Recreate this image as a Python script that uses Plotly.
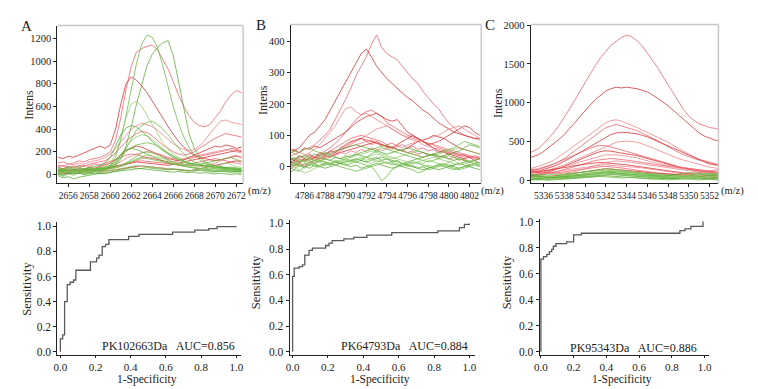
import plotly.graph_objects as go

W, H = 758, 389
def PX(x): return x / W
def PY(y): return 1 - y / H

# ---------------- Panel A spectra ----------------
x_A = [2655.0,2655.5,2656.0,2656.5,2657.0,2657.5,2658.0,2658.5,2659.0,2659.5,2660.0,2660.5,
       2661.0,2661.5,2662.0,2662.5,2663.0,2663.5,2664.0,2664.5,2665.0,2665.5,2666.0,2666.5,
       2667.0,2667.5,2668.0,2668.5,2669.0,2669.5,2670.0,2670.5,2671.0,2671.5,2672.0,2672.5]
A_red = [
 [100,110,90,100,120,110,130,140,150,170,200,300,500,750,950,1080,1110,1130,1140,1100,1020,930,820,700,600,520,460,430,420,440,500,560,640,700,740,720],
 [150,140,160,150,170,190,210,230,250,230,260,400,620,800,860,830,780,720,650,580,500,420,350,290,240,200,170,150,140,130,120,130,140,150,160,150],
 [80,70,90,85,100,90,110,120,130,150,180,230,290,350,400,430,450,440,420,390,350,310,270,240,220,210,220,250,300,360,420,470,480,460,450,440],
 [60,50,70,60,80,70,90,100,110,120,150,190,240,290,330,360,380,370,340,300,260,230,200,180,170,180,200,230,260,290,320,340,360,350,340,330],
 [40,50,30,45,35,50,60,55,70,80,100,130,170,210,230,250,240,220,200,180,160,140,130,120,130,150,170,190,210,230,250,240,260,250,230,240],
 [30,20,35,25,40,30,45,40,55,60,70,90,110,140,160,180,190,200,195,185,170,150,140,130,140,150,160,170,180,190,200,210,220,210,200,190],
 [70,80,60,75,65,80,70,90,85,100,110,130,150,170,180,175,160,150,140,130,120,110,115,120,130,140,150,160,170,180,190,200,210,230,220,210],
 [20,30,25,40,30,35,45,40,50,45,60,70,80,90,100,110,105,100,95,90,85,80,90,100,110,120,130,140,150,160,170,180,190,200,210,200],
 [10,20,15,25,20,30,25,35,30,40,45,55,70,85,100,120,140,150,145,135,120,105,95,90,85,80,75,70,80,90,100,120,140,160,170,150],
 [40,35,45,30,50,40,55,45,60,50,65,75,90,100,110,115,120,115,110,105,100,95,90,85,80,90,100,110,120,130,140,130,120,110,100,90],
 [0,10,5,15,10,20,15,25,20,30,35,40,50,60,65,70,75,70,65,60,55,50,45,40,35,30,40,50,60,70,80,90,100,110,120,110],
]
A_green = [
 [35,20,45,30,25,40,35,50,45,60,80,150,300,520,760,980,1150,1230,1210,1120,960,780,600,450,330,240,170,130,100,80,70,65,60,55,50,45],
 [20,30,15,35,25,30,40,35,45,50,60,80,130,250,420,620,800,960,1060,1120,1160,1180,1050,820,560,360,230,160,110,90,80,70,60,65,55,50],
 [40,35,50,30,45,40,55,50,60,70,100,180,320,500,620,650,600,520,430,350,280,220,180,150,120,100,90,80,70,60,55,60,50,45,40,35],
 [10,25,15,30,20,25,30,35,40,45,60,90,150,230,320,390,430,460,470,440,400,350,290,230,180,140,110,90,80,70,60,55,50,45,40,40],
 [50,40,60,45,55,50,60,70,80,100,150,250,350,410,430,420,380,340,290,250,210,180,150,130,110,100,90,80,75,70,60,65,55,50,45,40],
 [20,10,25,15,30,20,25,30,35,40,60,100,170,240,300,330,350,340,310,270,230,190,160,130,110,90,80,70,60,55,50,45,40,40,35,30],
 [30,40,25,35,30,45,40,50,55,60,80,110,150,200,240,260,270,280,270,250,220,190,160,140,120,100,90,80,75,70,60,55,50,55,45,40],
 [0,-10,10,5,15,10,20,25,30,40,70,120,180,220,230,220,200,180,160,140,120,100,90,80,70,60,55,50,45,40,35,30,35,30,25,20],
 [10,-20,5,-10,15,0,10,20,15,25,30,40,50,60,70,80,75,70,65,60,55,50,45,40,35,30,40,35,30,25,20,30,25,20,15,10],
 [40,30,50,35,45,30,40,35,50,45,55,60,70,90,110,130,150,140,130,120,110,100,90,80,70,65,60,50,55,45,50,40,45,35,40,30],
 [-10,-30,-20,-40,-25,-15,-5,0,10,5,20,30,40,50,60,55,50,45,40,35,30,25,20,25,20,15,20,10,15,10,5,10,5,0,5,0],
 [25,15,30,20,10,25,15,30,20,35,40,55,80,100,120,140,160,170,160,150,140,120,100,90,80,70,60,55,50,45,60,80,100,90,70,60],
 [60,50,70,55,65,50,60,45,55,50,60,70,80,100,130,160,190,200,190,170,150,130,110,100,90,85,80,90,100,110,120,130,140,150,130,120],
 [5,0,15,5,10,0,5,10,5,15,20,25,30,35,45,50,55,60,55,50,45,40,50,45,40,35,30,40,35,30,25,30,25,20,30,25],
]
A_xticks = [2656, 2658, 2660, 2662, 2664, 2666, 2668, 2670, 2672]
A_yticks = [0, 200, 400, 600, 800, 1000, 1200]

# ---------------- Panel B spectra ----------------
x_B = [4784.5,4785.0,4785.5,4786.0,4786.5,4787.0,4787.5,4788.0,4788.5,4789.0,4789.5,4790.0,
       4790.5,4791.0,4791.5,4792.0,4792.5,4793.0,4793.5,4794.0,4794.5,4795.0,4795.5,4796.0,
       4796.5,4797.0,4797.5,4798.0,4798.5,4799.0,4799.5,4800.0,4800.5,4801.0,4801.5,4802.0,4802.5,4803.0]
B_red = [
 [30,40,45,55,60,70,85,100,120,150,180,215,250,290,320,350,390,420,380,360,350,340,320,300,280,265,240,220,200,185,160,140,125,110,100,95,90,85],
 [40,50,60,80,100,110,130,150,180,210,240,270,300,330,360,375,350,320,300,280,265,250,235,220,210,195,180,170,155,140,130,120,110,105,100,95,90,90],
 [20,25,30,35,45,55,70,90,110,130,160,185,190,175,165,170,160,150,140,130,120,110,100,90,85,80,70,65,60,55,50,45,40,40,35,30,25,30],
 [10,5,15,20,25,30,40,50,60,75,90,110,130,150,165,175,180,170,160,140,130,120,110,100,95,90,80,75,70,60,55,50,45,40,35,30,30,25],
 [50,55,45,60,55,65,60,70,80,90,100,110,125,140,150,160,165,170,160,150,145,150,130,110,100,90,80,70,75,80,90,100,110,120,130,125,110,100],
 [0,5,10,0,15,10,20,25,30,40,50,60,70,80,90,100,110,120,125,130,120,110,100,95,90,85,80,75,70,65,60,55,50,45,40,35,30,25],
 [20,10,25,15,30,20,35,40,50,60,70,80,90,95,100,95,90,85,80,70,75,65,70,60,65,55,60,50,55,45,50,40,45,35,40,30,35,30],
 [30,20,35,25,40,30,45,35,50,45,60,70,80,85,90,85,80,75,70,65,60,55,50,60,70,80,85,90,100,95,90,80,70,60,55,50,45,40],
 [60,50,45,40,35,30,35,40,45,50,55,60,65,70,75,80,70,75,65,70,60,55,50,45,40,35,30,35,40,45,50,45,40,35,30,35,30,25],
 [-10,0,10,5,15,20,25,30,35,45,55,65,75,85,90,80,85,75,70,60,65,55,50,45,50,40,45,35,40,30,35,25,30,20,25,15,20,10],
 [10,20,15,25,20,30,25,35,30,40,45,50,55,60,65,70,75,80,70,65,60,70,80,90,100,90,80,70,60,50,45,40,35,30,25,30,20,25],
 [20,15,25,20,30,25,35,30,40,35,45,40,50,45,55,50,60,55,50,60,55,65,60,70,75,80,85,90,95,100,110,120,125,130,120,110,100,90],
]
B_green = [
 [0,-10,5,-5,10,0,5,15,10,20,15,25,20,15,10,5,0,-20,-45,-30,-10,0,10,5,0,-5,0,-10,-5,0,5,0,-5,-10,-5,0,5,0],
 [20,30,15,25,10,20,15,25,20,30,25,35,30,40,35,30,25,30,20,25,15,20,10,15,20,25,30,35,40,35,30,25,20,25,20,15,20,25],
 [10,0,-10,-20,-15,-5,0,10,5,15,10,20,15,25,20,15,10,20,15,10,5,10,0,5,10,15,10,20,15,10,5,0,5,10,15,20,15,10],
 [40,50,45,55,60,50,45,40,35,30,25,30,35,40,45,50,55,60,65,70,60,55,50,45,40,35,30,35,40,45,50,55,60,70,80,75,70,65],
 [-20,-10,-15,0,-5,5,0,10,5,15,10,5,0,5,-5,0,5,10,5,0,-5,0,5,10,15,10,5,0,-5,-10,-5,0,5,10,5,0,-5,-10],
 [30,25,20,15,20,10,15,5,10,15,20,25,30,35,40,45,50,45,40,35,30,25,20,15,10,15,20,25,30,25,20,15,10,5,10,15,20,25],
 [5,15,10,20,25,20,30,25,20,15,10,5,10,15,20,30,40,50,60,55,50,45,40,35,30,25,20,15,20,25,30,35,30,25,20,15,10,5],
 [15,10,5,0,5,10,0,-5,0,5,10,15,20,25,20,15,20,25,30,25,20,15,10,5,0,-5,-10,-5,0,5,10,5,0,-5,0,5,10,15],
 [50,40,35,30,25,20,25,30,35,30,25,20,15,20,25,30,35,40,35,30,25,30,35,40,45,50,45,40,35,40,45,50,55,60,55,50,45,40],
 [-5,5,0,10,5,15,20,15,10,5,0,-5,-10,-15,-10,-5,0,5,10,15,10,5,0,-5,-10,-20,-15,-5,0,5,0,-5,-10,-5,0,5,10,5],
 [25,20,30,35,30,40,35,45,40,50,55,60,65,70,65,60,55,50,45,40,45,50,55,60,55,50,45,40,35,30,35,40,45,50,60,70,65,60],
 [0,10,20,15,5,10,0,5,10,5,15,10,20,25,30,20,25,15,20,10,15,5,10,0,5,-5,0,5,0,10,5,15,20,10,15,5,10,0],
]
B_xticks = [4786, 4788, 4790, 4792, 4794, 4796, 4798, 4800, 4802]
B_yticks = [0, 100, 200, 300, 400]

# ---------------- Panel C spectra ----------------
x_C = [5334.5,5335.0,5335.5,5336.0,5336.5,5337.0,5337.5,5338.0,5338.5,5339.0,5339.5,5340.0,
       5340.5,5341.0,5341.5,5342.0,5342.5,5343.0,5343.5,5344.0,5344.5,5345.0,5345.5,5346.0,
       5346.5,5347.0,5347.5,5348.0,5348.5,5349.0,5349.5,5350.0,5350.5,5351.0,5351.5,5352.0,5352.5,5353.0]
C_red = [
 [340,370,410,470,540,620,710,810,920,1030,1150,1260,1370,1480,1580,1660,1740,1790,1840,1870,1850,1800,1730,1640,1550,1450,1340,1230,1120,1010,910,830,770,730,700,680,670,650],
 [280,300,330,370,420,470,530,590,660,740,820,900,970,1040,1100,1150,1180,1200,1190,1200,1190,1180,1160,1140,1100,1060,1010,960,900,840,780,720,660,610,570,540,520,500],
 [150,160,180,200,230,260,300,350,400,450,500,550,600,650,700,740,770,780,760,740,710,680,650,620,590,560,530,490,450,410,370,330,300,270,250,230,210,200],
 [120,130,140,160,180,210,240,280,330,380,430,480,530,580,630,680,700,720,700,680,660,640,610,580,550,510,470,430,390,360,330,300,280,260,240,220,200,190],
 [100,110,120,140,160,180,210,240,280,320,360,400,440,480,520,560,590,610,620,615,610,600,580,560,530,500,470,440,410,380,350,320,290,260,230,210,200,190],
 [80,90,100,110,130,150,170,200,230,260,290,320,350,380,410,440,470,490,500,505,500,490,470,450,420,390,360,330,300,280,260,240,220,200,180,170,160,150],
 [130,140,150,170,190,210,240,270,300,330,360,390,420,440,450,445,430,410,390,370,350,330,310,290,270,250,230,210,190,170,150,140,130,120,110,100,100,90],
 [60,70,80,90,110,130,150,180,210,240,270,300,330,350,370,380,375,360,350,340,330,320,300,280,260,240,220,200,180,170,160,150,140,130,120,110,100,100],
 [90,100,110,120,130,145,160,180,200,220,240,260,280,300,320,330,325,330,320,310,300,290,270,250,230,210,200,190,180,170,160,150,140,130,120,110,105,100],
 [50,60,70,80,90,100,120,140,160,180,200,220,240,255,265,275,280,275,270,260,250,240,230,220,210,200,190,180,170,160,150,140,130,120,110,100,90,80],
 [100,110,100,120,130,140,150,160,175,190,200,210,220,225,230,225,220,215,210,200,190,180,170,160,150,140,130,120,110,100,90,80,75,70,65,60,55,50],
 [70,80,85,90,100,110,120,130,140,150,160,170,180,190,195,200,195,190,185,180,175,170,160,150,140,130,120,110,100,90,85,80,75,70,65,60,60,55],
 [130,120,110,100,95,90,100,110,120,130,140,150,160,170,175,180,175,170,160,150,140,130,120,110,100,95,90,85,80,75,70,80,90,100,110,120,130,140],
 [40,50,45,55,50,60,65,70,80,90,100,110,120,130,140,150,145,140,135,130,125,120,110,100,95,90,85,80,75,70,65,60,55,50,45,40,35,30],
 [150,140,130,120,110,100,90,95,100,110,130,150,170,190,210,230,240,250,245,240,230,220,210,200,190,180,170,160,150,140,130,120,115,110,100,95,90,85],
]
C_green = [
 [50,40,60,45,55,50,60,70,80,90,100,110,120,130,140,150,145,140,130,120,110,100,90,80,70,60,55,50,45,40,50,60,70,80,70,60,50,40],
 [20,30,25,35,30,40,45,50,60,70,80,90,95,100,105,110,100,95,90,85,80,70,60,55,50,45,40,35,30,40,50,60,55,50,45,40,35,30],
 [10,15,20,15,25,20,30,35,40,50,55,60,70,75,80,85,80,75,70,65,60,55,50,45,40,35,30,25,20,30,40,45,40,35,30,25,20,15],
 [60,70,65,75,70,80,75,85,90,95,100,105,110,120,125,130,125,120,115,110,105,100,95,90,85,80,75,70,65,60,55,60,65,70,75,80,70,60],
 [5,10,5,15,10,20,15,25,20,30,35,40,45,50,55,60,55,50,45,40,35,30,25,20,15,20,25,30,25,20,15,20,25,20,15,10,5,10],
 [30,25,35,30,40,35,45,40,50,55,60,65,70,75,80,85,90,85,80,75,70,65,60,55,50,45,40,45,50,55,60,65,70,75,80,85,90,80],
 [80,70,60,55,50,45,50,55,60,65,70,75,80,90,100,110,115,110,105,100,95,90,85,80,75,70,65,60,55,50,45,40,45,50,55,60,65,70],
 [15,20,25,30,35,40,35,30,35,40,45,50,55,60,65,70,75,70,65,60,55,50,45,40,35,30,25,20,25,30,35,40,35,30,25,20,25,30],
 [40,45,50,45,40,35,40,45,50,60,70,80,90,100,110,120,130,125,120,110,100,90,80,70,65,60,55,50,45,40,35,30,35,40,45,50,55,50],
 [0,5,10,5,0,5,10,15,20,25,30,35,40,45,50,45,40,35,30,35,40,35,30,25,20,15,10,5,10,15,20,15,10,5,10,15,10,5],
 [70,60,50,40,30,35,40,45,50,55,60,70,80,85,90,95,100,95,90,85,80,75,70,65,60,55,50,60,70,80,90,100,95,90,85,80,75,70],
 [25,30,35,40,45,50,55,60,65,70,75,80,85,90,95,90,85,80,75,70,65,60,55,50,45,40,35,30,35,40,45,50,45,40,35,30,25,20],
]
C_xticks = [5336, 5338, 5340, 5342, 5344, 5346, 5348, 5350, 5352]
C_yticks = [0, 500, 1000, 1500, 2000]

# ---------------- ROC curves ----------------
fpr_A = [0.0, 0.0, 0.013, 0.024, 0.039, 0.056, 0.075, 0.088, 0.171, 0.206, 0.22, 0.238, 0.257, 0.276, 0.388, 0.447, 0.638, 0.764, 0.844, 0.891, 1.0]
tpr_A = [0.0, 0.103, 0.134, 0.40, 0.536, 0.554, 0.572, 0.65, 0.716, 0.747, 0.77, 0.838, 0.856, 0.894, 0.92, 0.936, 0.954, 0.969, 0.982, 0.997, 1.0]
fpr_B = [0.0, 0.0, 0.009, 0.037, 0.056, 0.069, 0.093, 0.112, 0.187, 0.206, 0.224, 0.29, 0.346, 0.42, 0.561, 0.822, 0.944, 0.972, 1.0]
tpr_B = [0.0, 0.588, 0.652, 0.664, 0.677, 0.753, 0.79, 0.808, 0.828, 0.846, 0.866, 0.879, 0.891, 0.909, 0.929, 0.942, 0.967, 0.992, 1.0]
fpr_C = [0.0, 0.0, 0.016, 0.036, 0.052, 0.066, 0.076, 0.092, 0.157, 0.2, 0.247, 0.849, 0.88, 0.916, 0.99]
tpr_C = [0.0, 0.711, 0.731, 0.748, 0.768, 0.786, 0.81, 0.83, 0.843, 0.898, 0.91, 0.93, 0.943, 0.963, 1.0]
roc_labels = ["PK102663Da   AUC=0.856", "PK64793Da   AUC=0.884", "PK95343Da   AUC=0.886"]
roc_ticks = [0.0, 0.2, 0.4, 0.6, 0.8, 1.0]
panel_letters = ["A", "B", "C"]

# ---------------- figure ----------------
FONT = "Liberation Serif"
INK = "#222222"
reds = ["rgba(232,95,105,0.85)", "rgba(214,45,45,0.85)", "rgba(240,120,125,0.8)"]
greens = ["rgba(105,185,65,0.85)", "rgba(80,165,45,0.8)", "rgba(140,200,100,0.8)"]

fig = go.Figure()

top = [
    dict(x=x_A, red=A_red, green=A_green, xr=[2654.96, 2672.66], yr=[-78, 1313],
         box=(52, 240, 21, 182), xt=A_xticks, yt=A_yticks),
    dict(x=x_B, red=B_red, green=B_green, xr=[4784.66, 4803.15], yr=[-53, 453],
         box=(288, 481, 20, 182), xt=B_xticks, yt=B_yticks),
    dict(x=x_C, red=C_red, green=C_green, xr=[5334.76, 5352.86], yr=[-38, 2006],
         box=(531, 721, 20, 182), xt=C_xticks, yt=C_yticks),
]
bottom = [
    dict(f=fpr_A, t=tpr_A, xr=[-0.017, 1.028], yr=[-0.023, 1.031], box=(52, 238, 222, 357)),
    dict(f=fpr_B, t=tpr_B, xr=[-0.017, 1.034], yr=[-0.023, 1.023], box=(287, 475, 220, 357)),
    dict(f=fpr_C, t=tpr_C, xr=[-0.008, 1.024], yr=[-0.023, 1.023], box=(540, 711, 218, 357)),
]

def axis_common(size, ticklen=3):
    return dict(ticks="outside", ticklen=ticklen, tickwidth=1, tickcolor=INK, showline=True,
                linecolor=INK, linewidth=1, showgrid=False, zeroline=False, tickangle=0,
                tickfont=dict(family=FONT, size=size, color=INK))

layout_axes = {}
shapes = []
annotations = []

for i, p in enumerate(top):
    n = i + 1
    xn = "x" if n == 1 else f"x{n}"
    yn = "y" if n == 1 else f"y{n}"
    for k, ys in enumerate(p["red"]):
        fig.add_trace(go.Scatter(x=p["x"], y=ys, mode="lines", xaxis=xn, yaxis=yn,
                                 line=dict(color=reds[k % 3], width=0.9), showlegend=False,
                                 hoverinfo="skip"))
    for k, ys in enumerate(p["green"]):
        fig.add_trace(go.Scatter(x=p["x"], y=ys, mode="lines", xaxis=xn, yaxis=yn,
                                 line=dict(color=greens[k % 3], width=0.9), showlegend=False,
                                 hoverinfo="skip"))
    x0, x1, y0, y1 = p["box"]
    layout_axes[f"xaxis{n if n > 1 else ''}"] = dict(
        domain=[PX(x0), PX(x1)], range=p["xr"], tickvals=p["xt"], anchor=yn,
        **axis_common(9.5))
    layout_axes[f"yaxis{n if n > 1 else ''}"] = dict(
        domain=[PY(y1), PY(y0)], range=p["yr"], tickvals=p["yt"], anchor=xn,
        **axis_common(10.5))
    shapes.append(dict(type="line", xref=f"{xn} domain", yref=f"{yn} domain",
                       x0=0, x1=1, y0=1, y1=1, line=dict(color="#c8c8c8", width=1.5)))
    shapes.append(dict(type="line", xref=f"{xn} domain", yref=f"{yn} domain",
                       x0=1, x1=1, y0=0, y1=1, line=dict(color="#c8c8c8", width=1.5)))

for i, p in enumerate(bottom):
    n = i + 4
    xn, yn = f"x{n}", f"y{n}"
    fig.add_trace(go.Scatter(x=p["f"], y=p["t"], mode="lines", line_shape="hv",
                             xaxis=xn, yaxis=yn, line=dict(color="#5a5a5a", width=1.3),
                             showlegend=False, hoverinfo="skip"))
    x0, x1, y0, y1 = p["box"]
    layout_axes[f"xaxis{n}"] = dict(domain=[PX(x0), PX(x1)], range=p["xr"], tickvals=roc_ticks,
                                    tickformat=".1f", anchor=yn, **axis_common(11, ticklen=2))
    layout_axes[f"yaxis{n}"] = dict(domain=[PY(y1), PY(y0)], range=p["yr"], tickvals=roc_ticks,
                                    tickformat=".1f", anchor=xn, **axis_common(11.5))

def ann(text, x, y, size, angle=0, xanchor="center"):
    annotations.append(dict(text=text, x=PX(x), y=PY(y), xref="paper", yref="paper",
                            showarrow=False, xanchor=xanchor, yanchor="middle",
                            textangle=angle, font=dict(family=FONT, size=size, color=INK)))

for letter, (lx, ly) in zip(panel_letters, [(21, 21), (258, 20), (490, 20)]):
    ann(letter, lx, ly, 15)
for (ix, iy) in [(23, 102), (260, 97), (498, 100)]:
    ann("Intens", ix, iy, 12, angle=-90)
for mx in [243, 479, 722]:
    ann("(m/z)", mx, 190, 10.5, xanchor="left")
for (sx, sy) in [(21, 290), (253, 283), (507, 283)]:
    ann("Sensitivity", sx, sy, 12.5, angle=-90)
for fx in [143, 378, 623]:
    ann("1-Specificity", fx, 382.5, 11.5)
for txt, (tx, ty) in zip(roc_labels, [(164, 348), (403, 348), (635, 350)]):
    ann(txt, tx, ty, 12)

fig.update_layout(width=W, height=H, autosize=False, margin=dict(l=0, r=0, t=0, b=0),
                  paper_bgcolor="white", plot_bgcolor="white", showlegend=False,
                  shapes=shapes, annotations=annotations, **layout_axes)

fig.write_html("out.html", config={"displayModeBar": False},
               post_script="document.body.style.margin='0px';document.body.style.padding='0px';")
